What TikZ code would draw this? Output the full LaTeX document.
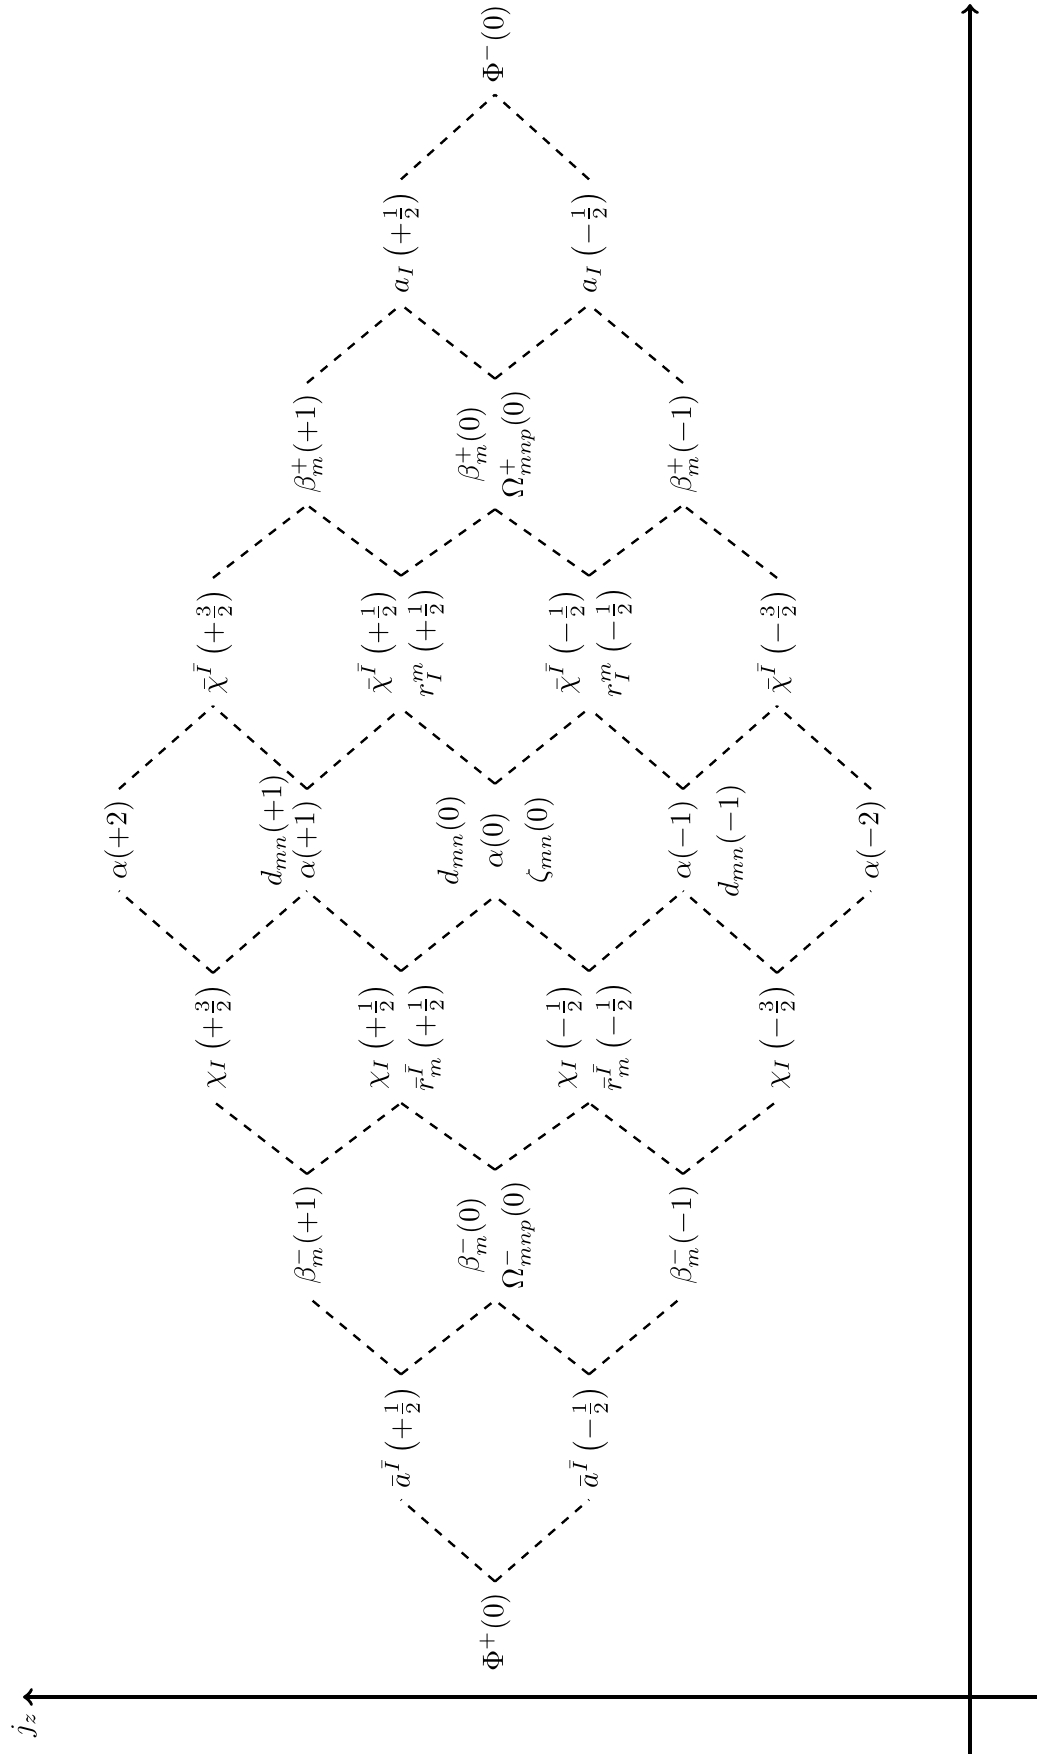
\documentclass[tikz,border=0pt]{standalone}
\usepackage{amsmath}
\begin{document}
\begin{tikzpicture}[x=0.339pt,y=-0.339pt,
  lbl/.style={rotate=90,align=center,inner sep=3.6pt},
  link/.style={dashed,thick},
  axis/.style={very thick,->}]
\useasboundingbox (0,0) rectangle (1037,1754);
% row 0
\node[lbl] (p0) at (495,1632) {$\Phi^+(0)$};
% row 1
\node[lbl] (a1) at (401,1437) {$\bar a^{\bar I}\left(+\frac12\right)$};
\node[lbl] (a2) at (589,1437) {$\bar a^{\bar I}\left(-\frac12\right)$};
% row 2
\node[lbl] (b1) at (307,1235) {$\beta^-_m(+1)$};
\node[lbl] (b2) at (495,1235) {$\beta^-_m(0)$\\[3pt]$\Omega^-_{mnp}(0)$};
\node[lbl] (b3) at (683,1235) {$\beta^-_m(-1)$};
% row 3
\node[lbl] (c1) at (213,1037) {$\chi_I\left(+\frac32\right)$};
\node[lbl] (c2) at (401,1037) {$\chi_I\left(+\frac12\right)$\\[3pt]$\bar r^{\bar I}_m\left(+\frac12\right)$};
\node[lbl] (c3) at (589,1037) {$\chi_I\left(-\frac12\right)$\\[3pt]$\bar r^{\bar I}_m\left(-\frac12\right)$};
\node[lbl] (c4) at (777,1037) {$\chi_I\left(-\frac32\right)$};
% row 4
\node[lbl] (d1) at (119,840) {$\alpha(+2)$};
\node[lbl] (d2) at (307,840) {$\alpha(+1)$};
\node[lbl] (d3) at (495,840) {$d_{mn}(0)$\\[3pt]$\alpha(0)$\\[3pt]$\zeta_{mn}(0)$};
\node[lbl] (d4) at (683,840) {$\alpha(-1)$};
\node[lbl] (d5) at (871,840) {$\alpha(-2)$};
\node[lbl] (dl2) at (274,830) {$d_{mn}(+1)$};
\node[lbl] (dl4) at (731,841) {$d_{mn}(-1)$};
% row 5
\node[lbl] (e1) at (213,642) {$\bar\chi^{\bar I}\left(+\frac32\right)$};
\node[lbl] (e2) at (401,642) {$\bar\chi^{\bar I}\left(+\frac12\right)$\\[3pt]$r^m_I\left(+\frac12\right)$};
\node[lbl] (e3) at (589,642) {$\bar\chi^{\bar I}\left(-\frac12\right)$\\[3pt]$r^m_I\left(-\frac12\right)$};
\node[lbl] (e4) at (777,642) {$\bar\chi^{\bar I}\left(-\frac32\right)$};
% row 6
\node[lbl] (f1) at (307,444) {$\beta^+_m(+1)$};
\node[lbl] (f2) at (495,444) {$\beta^+_m(0)$\\[3pt]$\Omega^+_{mnp}(0)$};
\node[lbl] (f3) at (683,444) {$\beta^+_m(-1)$};
% row 7
\node[lbl] (g1) at (401,242) {$a_I\left(+\frac12\right)$};
\node[lbl] (g2) at (589,242) {$a_I\left(-\frac12\right)$};
% row 8
\node[lbl] (h1) at (495,44) {$\Phi^-(0)$};
% links
\foreach \u/\v in {p0/a1,p0/a2,
  a1/b1,a1/b2,a2/b2,a2/b3,
  b1/c1,b1/c2,b2/c2,b2/c3,b3/c3,b3/c4,
  c1/d1,c1/d2,c2/d2,c2/d3,c3/d3,c3/d4,c4/d4,c4/d5,
  d1/e1,d2/e1,d2/e2,d3/e2,d3/e3,d4/e3,d4/e4,d5/e4,
  e1/f1,e2/f1,e2/f2,e3/f2,e3/f3,e4/f3,
  f1/g1,f2/g1,f2/g2,f3/g2,
  g1/h1,g2/h1}
  \draw[link] (\u.east) -- (\v.west);
% axes
\coordinate (hx0) at (1050,1697);
\coordinate (hx1) at (23,1697);
\coordinate (vy0) at (970,1770);
\coordinate (vy1) at (970,4);
\draw[axis] (hx0) -- (hx1);
\draw[axis] (vy0) -- (vy1);
\node[rotate=90,inner sep=1pt] (jz) at (24,1725) {$j_z$};
\end{tikzpicture}
\end{document}
